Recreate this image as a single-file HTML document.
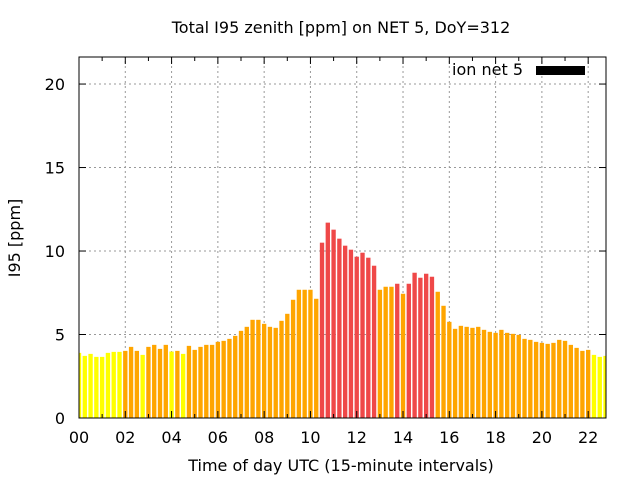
<!DOCTYPE html>
<html><head><meta charset="utf-8"><style>
body{margin:0;background:#fff;}
svg{display:block;font-family:"DejaVu Sans",sans-serif;}
</style></head><body>
<svg id="chart" width="640" height="480" viewBox="0 0 640 480" xmlns="http://www.w3.org/2000/svg">
<rect width="640" height="480" fill="#fff"/>
<text x="341" y="33" font-size="16" text-anchor="middle">Total I95 zenith [ppm] on NET 5, DoY=312</text>
<g id="grid"></g>
<g id="bars"></g>
<g id="axes"></g>
<rect x="79" y="57" width="527" height="361" fill="none" stroke="#000" stroke-width="1"/>
<text transform="translate(20,238) rotate(-90)" font-size="16" text-anchor="middle">I95 [ppm]</text>
<text x="341" y="471" font-size="16" text-anchor="middle">Time of day UTC (15-minute intervals)</text>
<g>
<text x="523" y="75" font-size="16" text-anchor="end">ion net 5</text>
<rect x="536" y="66" width="49" height="9" fill="#000"/>
</g>
</svg>
<script>
const values = [3.9,3.72,3.84,3.66,3.66,3.9,3.96,3.96,4.02,4.26,4.02,3.78,4.26,4.38,4.14,4.38,3.98,4.02,3.84,4.32,4.08,4.26,4.38,4.38,4.56,4.62,4.74,4.92,5.22,5.46,5.88,5.88,5.64,5.46,5.4,5.82,6.24,7.08,7.68,7.68,7.68,7.14,10.5,11.7,11.28,10.74,10.32,10.08,9.66,9.9,9.6,9.12,7.68,7.86,7.86,8.04,7.44,8.04,8.7,8.4,8.64,8.46,7.56,6.72,5.76,5.34,5.52,5.46,5.4,5.46,5.28,5.16,5.1,5.28,5.1,5.04,4.98,4.74,4.68,4.56,4.5,4.44,4.5,4.68,4.62,4.38,4.2,4.02,4.08,3.78,3.66,3.72];
const yTicks = [0,5,10,15,20];
const xTickLabels = ["00","02","04","06","08","10","12","14","16","18","20","22"];
const NS="http://www.w3.org/2000/svg";
const X0=79,X1=606,Y0=418,Y1=57,XMAX=22.77,YMAX=21.62;
function xs(h){return X0+(X1-X0)*h/XMAX;}
function ys(v){return Y0-(Y0-Y1)*v/YMAX;}
function mk(tag,attrs,parent){const e=document.createElementNS(NS,tag);for(const k in attrs)e.setAttribute(k,attrs[k]);parent.appendChild(e);return e;}
const grid=document.getElementById('grid'),axes=document.getElementById('axes'),bars=document.getElementById('bars');
yTicks.forEach(v=>{
  const y=ys(v);
  if(v>0){const g=mk('line',{x1:X0,x2:X1,y1:y,y2:y,stroke:'#999','stroke-dasharray':'2,3'},grid);
  
  }
  mk('line',{x1:X0,x2:X0+7,y1:y,y2:y,stroke:'#000'},axes);
  mk('line',{x1:X1,x2:X1-7,y1:y,y2:y,stroke:'#000'},axes);
  const t=mk('text',{x:X0-14,y:y+6,'font-size':16,'text-anchor':'end'},axes);
  t.textContent=v;
  
  
});
for(let h=1;h<=22;h+=2){const x=xs(h);
  mk('line',{x1:x,x2:x,y1:Y0,y2:Y0-4,stroke:'#000'},axes);
  mk('line',{x1:x,x2:x,y1:Y1,y2:Y1+4,stroke:'#000'},axes);}
xTickLabels.forEach((lab,i)=>{
  const h=i*2,x=xs(h);
  if(h>0){const g=mk('line',{x1:x,x2:x,y1:Y0,y2:Y1,stroke:'#999','stroke-dasharray':'2,3'},grid);
  
  }
  mk('line',{x1:x,x2:x,y1:Y0,y2:Y0-7,stroke:'#000'},axes);
  mk('line',{x1:x,x2:x,y1:Y1,y2:Y1+7,stroke:'#000'},axes);
  const t=mk('text',{x:x,y:Y0+25,'font-size':16,'text-anchor':'middle'},axes);
  t.textContent=lab;
  
  
});
const bw=(X1-X0)/XMAX*0.25*0.75;
values.forEach((v,i)=>{
  const cx=xs(i*0.25);
  let x=cx-bw/2,w=bw;
  if(x<X0){w-=X0-x;x=X0;}
  if(x+w>X1){w=X1-x;}
  const col=v<4?'#ffff00':(v<8?'#ffa500':'#ef4848');
  const r=mk('rect',{x:x,y:ys(v),width:w,height:Y0-ys(v),fill:col},bars);
  
  
});
</script>
</body></html>
